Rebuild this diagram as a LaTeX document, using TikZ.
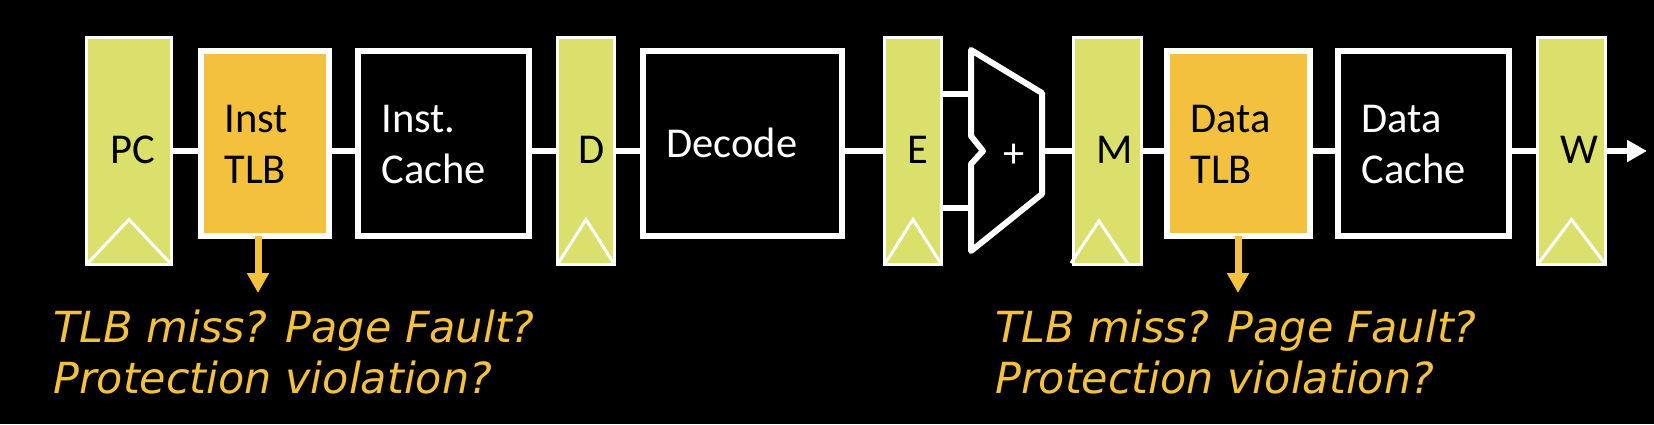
\documentclass[tikz,border=0pt]{standalone}
\usepackage{fontspec}
\setmainfont{Carlito}
\newfontfamily\notefont{DejaVu Sans}
\usetikzlibrary{arrows.meta}
\definecolor{regfill}{HTML}{DBE06C}
\definecolor{tlbfill}{HTML}{F4C13F}
\tikzset{
  x=0.02cm,y=-0.02cm,
  regbox/.style={draw=white,line width=0.06cm,fill=regfill,inner sep=0pt,outer sep=0pt,minimum height=4.54cm},
  clock/.style={draw=white,line width=0.06cm,line join=miter},
  boxbase/.style={draw=white,line width=0.12cm,inner sep=0pt,outer sep=0pt,minimum height=3.7cm},
  plainbox/.style={boxbase,fill=black},
  tlbbox/.style={boxbase,fill=tlbfill},
  boxlabel/.style={inner sep=0pt,anchor=base west,align=left,font=\fontsize{24.2}{28.5}\selectfont},
  reglabel/.style={text=black,inner sep=0pt,font=\fontsize{24.2}{28.5}\selectfont},
  wire/.style={draw=white,line width=0.13cm},
  trap/.style={draw=tlbfill,line width=0.14cm,-{Triangle[length=0.4cm,width=0.42cm]}},
  outarrow/.style={draw=white,line width=0.13cm,-{Triangle[length=0.4cm,width=0.42cm]}},
  note/.style={text=tlbfill,inner sep=0pt,anchor=west,align=left,font=\fontsize{24.4}{29}\notefont\itshape},
}
\begin{document}
\begin{tikzpicture}
\useasboundingbox[fill=black] (0,0) rectangle (1654,424);
\coordinate (bus) at (0,151);
% registers
\node[regbox,minimum width=1.7cm] (pc) at (129,151) {};
\node[regbox,minimum width=1.14cm] (d) at (586,151) {};
\node[regbox,minimum width=1.14cm] (e) at (913,151) {};
\node[regbox,minimum width=1.36cm] (m) at (1107.5,151) {};
\node[regbox,minimum width=1.36cm] (w) at (1571.5,151) {};
\foreach \r in {pc,d,e,w}{
  \draw[clock] (\r.south west) -- ([yshift=0.9cm]\r.south) -- (\r.south east);
}
\coordinate (mclockl) at (1071,263);
\coordinate (mclocka) at (1099,221);
\coordinate (mclockr) at (1128,264);
\draw[clock] (mclockl) -- (mclocka) -- (mclockr);
\node[reglabel] (pclabel) at (133,150) {PC};
\node[reglabel] (dlabel) at (592,150) {D};
\node[reglabel] (elabel) at (918,150) {E};
\node[reglabel] (mlabel) at (1114.5,150) {M};
\node[reglabel] (wlabel) at (1579,150) {W};
% blocks
\node[tlbbox,minimum width=2.56cm] (itlb) at (265,143.8) {};
\node[plainbox,minimum width=3.42cm] (icache) at (443.5,143.8) {};
\node[plainbox,minimum width=3.98cm] (decode) at (742.5,143.8) {};
\node[tlbbox,minimum width=2.86cm] (dtlb) at (1238.5,143.8) {};
\node[plainbox,minimum width=3.42cm] (dcache) at (1423.5,143.8) {};
\node[boxlabel,text=black] (itlblabel) at (224,183) {Inst\\TLB};
\node[boxlabel,text=white] (icachelabel) at (381,183) {Inst.\\Cache};
\node[boxlabel,text=white] (decodelabel) at (666,157) {Decode};
\node[boxlabel,text=black] (dtlblabel) at (1190,183) {Data\\TLB};
\node[boxlabel,text=white] (dcachelabel) at (1361,183) {Data\\Cache};
% adder
\coordinate (addtop) at (971,50);
\coordinate (addne) at (1042,93);
\coordinate (addse) at (1042,194);
\coordinate (addbot) at (971,251);
\coordinate (notcha) at (971,136);
\coordinate (notchb) at (983,151);
\coordinate (notchc) at (971,164);
\coordinate (addina) at (971,94);
\coordinate (addinb) at (971,208);
\coordinate (addout) at (1042,151);
\draw[draw=white,line width=0.12cm,line join=round] (addtop) -- (addne) -- (addse) -- (addbot) -- (notchc) -- (notchb) -- (notcha) -- cycle;
\node[text=white,inner sep=0pt,font=\fontsize{24.2}{28.5}\selectfont] (plus) at (1014,156) {+};
% connectors
\draw[wire] (pc.east |- bus) -- (itlb.west |- bus);
\draw[wire] (itlb.east |- bus) -- (icache.west |- bus);
\draw[wire] (icache.east |- bus) -- (d.west |- bus);
\draw[wire] (d.east |- bus) -- (decode.west |- bus);
\draw[wire] (decode.east |- bus) -- (e.west |- bus);
\draw[wire] (e.east |- addina) -- (addina);
\draw[wire] (e.east |- addinb) -- (addinb);
\draw[wire] (addout) -- (m.west |- bus);
\draw[wire] (m.east |- bus) -- (dtlb.west |- bus);
\draw[wire] (dtlb.east |- bus) -- (dcache.west |- bus);
\draw[wire] (dcache.east |- bus) -- (w.west |- bus);
\coordinate (wout) at (1647,151);
\draw[outarrow] (w.east |- bus) -- (wout);
% trap arrows and notes
\coordinate (itip) at (258,293);
\coordinate (dtip) at (1238,293);
\draw[trap] (itlb.south -| itip) -- (itip);
\draw[trap] (dtlb.south -| dtip) -- (dtip);
\node[note] (inote) at (53,352) {TLB miss? Page Fault?\\Protection violation?};
\node[note] (dnote) at (995,352) {TLB miss? Page Fault?\\Protection violation?};
\end{tikzpicture}
\end{document}
